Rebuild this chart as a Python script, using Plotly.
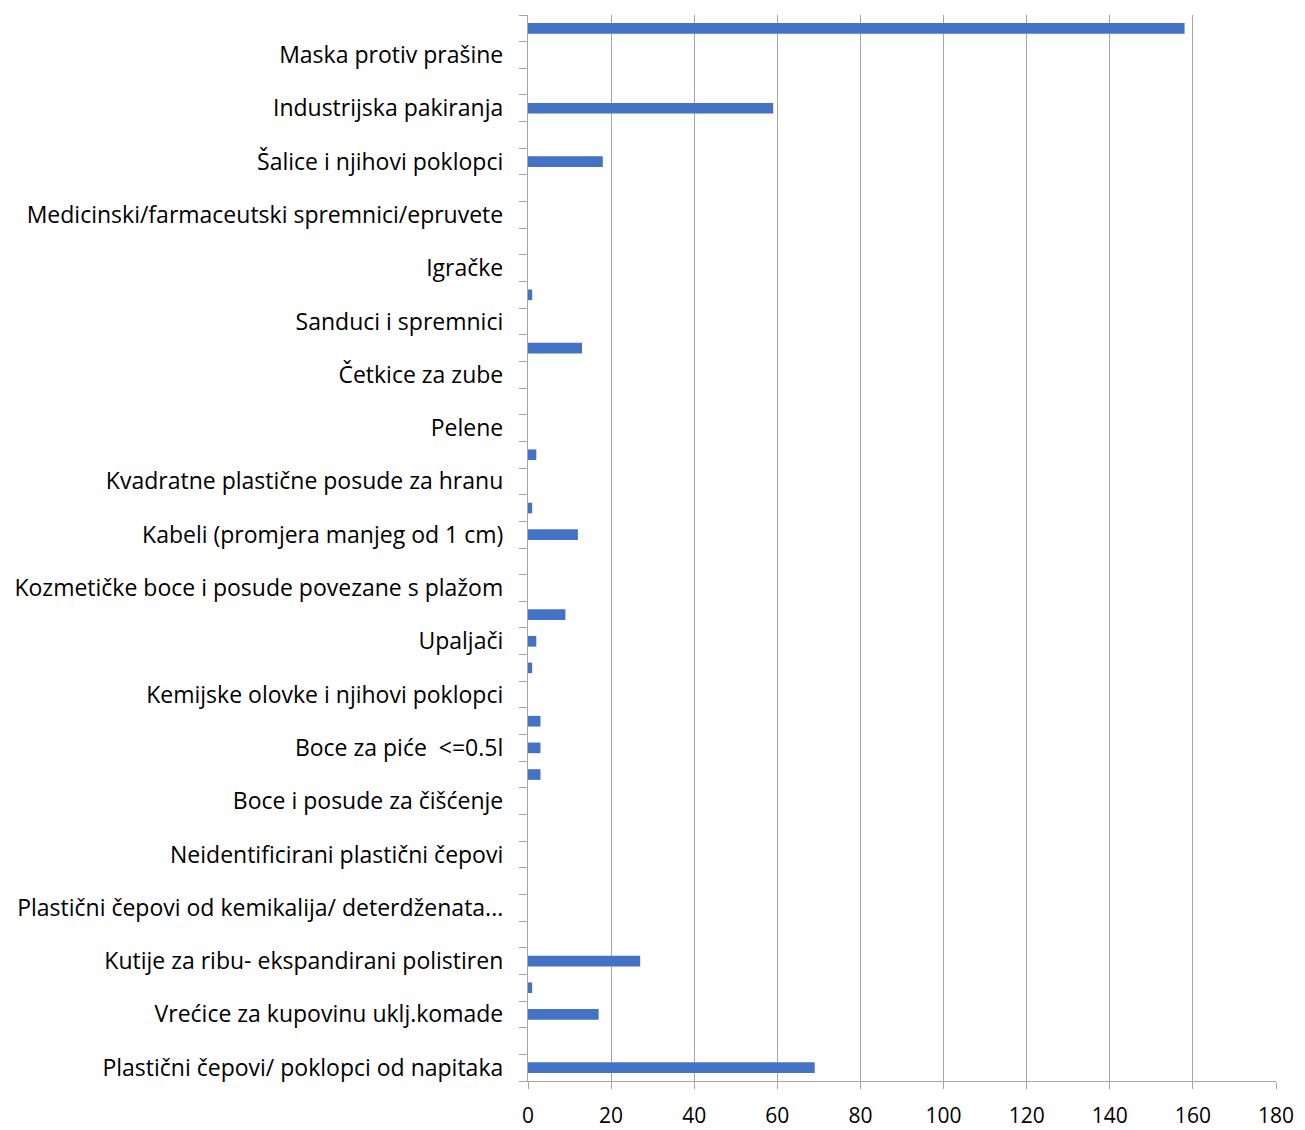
import plotly.graph_objects as go

# Categories listed bottom -> top; "" = category whose label is not shown in the chart
labels = [
    "Plastični čepovi/ poklopci od napitaka", "",
    "Vrećice za kupovinu uklj.komade", "",
    "Kutije za ribu- ekspandirani polistiren", "",
    "Plastični čepovi od kemikalija/ deterdženata...", "",
    "Neidentificirani plastični čepovi", "",
    "Boce i posude za čišćenje", "",
    "Boce za piće  <=0.5l", "",
    "Kemijske olovke i njihovi poklopci", "",
    "Upaljači", "",
    "Kozmetičke boce i posude povezane s plažom", "",
    "Kabeli (promjera manjeg od 1 cm)", "",
    "Kvadratne plastične posude za hranu", "",
    "Pelene", "",
    "Četkice za zube", "",
    "Sanduci i spremnici", "",
    "Igračke", "",
    "Medicinski/farmaceutski spremnici/epruvete", "",
    "Šalice i njihovi poklopci", "",
    "Industrijska pakiranja", "",
    "Maska protiv prašine", "",
]
values = [69, 0, 17, 1, 27, 0, 0, 0, 0, 0,
          0, 3, 3, 3, 0, 1, 2, 9, 0, 0,
          12, 1, 0, 2, 0, 0, 0, 13, 0, 1,
          0, 0, 0, 0, 18, 0, 59, 0, 0, 158]
x_ticks = [0, 20, 40, 60, 80, 100, 120, 140, 160, 180]

n = len(labels)
pos = list(range(n))
label_pos = [i for i in pos if labels[i]]
label_txt = [labels[i] for i in label_pos]
boundaries = [i - 0.5 for i in range(n + 1)]

FONT = "Open Sans, Calibri, Carlito, sans-serif"
AX = "#A6A6A6"

fig = go.Figure()
fig.add_trace(go.Bar(x=values, y=pos, orientation="h",
                     marker=dict(color="#4472C4", line=dict(width=0)),
                     showlegend=False))
# invisible trace to activate the boundary tick axis
fig.add_trace(go.Scatter(x=[None], y=[None], yaxis="y2", showlegend=False,
                         hoverinfo="skip"))

fig.update_layout(
    width=1297, height=1122,
    margin=dict(l=520, r=29, t=7, b=49, autoexpand=False),
    paper_bgcolor="white", plot_bgcolor="white",
    bargap=0.6,
    font=dict(family=FONT, size=21, color="#000000"),
    xaxis=dict(range=[0, 180], tickvals=x_ticks, showgrid=True,
               gridcolor=AX, gridwidth=1.3, zeroline=False,
               showline=True, linecolor=AX, linewidth=1.3,
               ticks="outside", ticklen=7, tickcolor=AX, tickwidth=1.3,
               ticklabelstandoff=9,
               tickfont=dict(size=21, family=FONT, color="#000000")),
    yaxis=dict(range=[-0.5, n - 0.5], tickvals=label_pos, ticktext=label_txt,
               showgrid=False, zeroline=False, showline=True,
               linecolor=AX, linewidth=1.3, ticks="", ticklabelstandoff=19,
               tickfont=dict(size=23, family=FONT, color="#000000")),
    yaxis2=dict(range=[-0.5, n - 0.5], overlaying="y", side="left",
                anchor="x", tickvals=boundaries, ticktext=[""] * len(boundaries),
                ticks="outside", ticklen=8, tickcolor=AX, tickwidth=1.3,
                showgrid=False, zeroline=False, showline=False),
)

fig.write_html("out.html")
